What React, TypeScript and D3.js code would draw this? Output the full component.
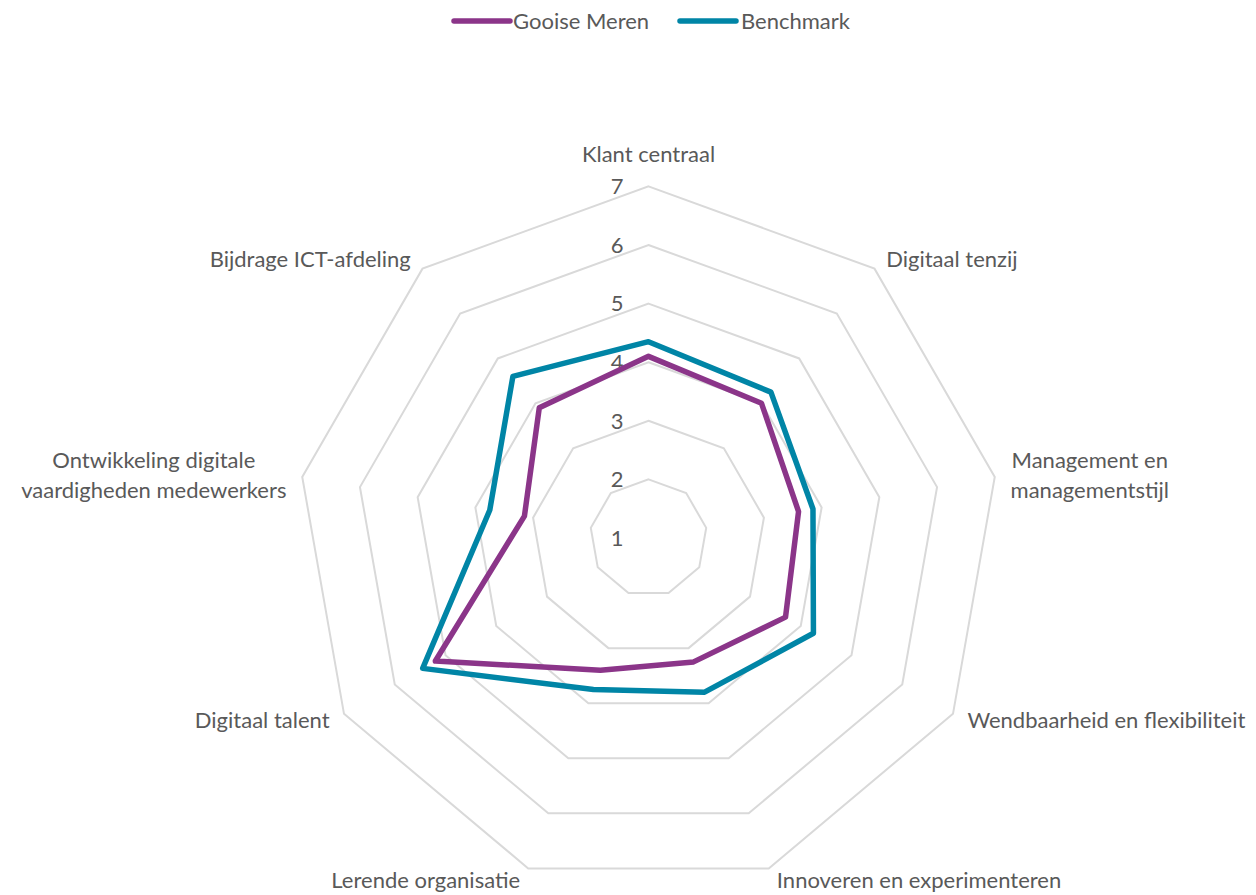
import React, {useRef, useEffect} from 'react'
import * as d3 from 'd3'

const categories = [
  'Klant centraal',
  'Digitaal tenzij',
  'Management en\nmanagementstijl',
  'Wendbaarheid en flexibiliteit',
  'Innoveren en experimenteren',
  'Lerende organisatie',
  'Digitaal talent',
  'Ontwikkeling digitale\nvaardigheden medewerkers',
  'Bijdrage ICT-afdeling',
]
const gooiseMeren = [4.1, 4.0, 3.6, 3.7, 3.25, 3.4, 5.2, 3.15, 3.9]
const benchmark = [4.35, 4.25, 3.85, 4.25, 3.8, 3.75, 5.45, 3.75, 4.6]
const ticks = [1, 2, 3, 4, 5, 6, 7]

const seriesList = [
  {name: 'Gooise Meren', values: gooiseMeren, color: '#8B3589'},
  {name: 'Benchmark', values: benchmark, color: '#0085A6'},
]

const W = 1256
const H = 895
const cx = 648.5
const cy = 538
const outerR = 351.6
const font = 'Lato, "Open Sans", sans-serif'
const textColor = '#595959'

const App = () => {
  const ref = useRef(null)

  useEffect(() => {
    const svg = d3.select(ref.current)
    svg.selectAll('*').remove()

    const step = (2 * Math.PI) / categories.length
    const r = d3.scaleLinear().domain([1, 7]).range([0, outerR])

    const g = svg.append('g').attr('transform', `translate(${cx},${cy})`)

    // grid rings
    const ring = d3.lineRadial()
      .angle((d, i) => i * step)
      .radius(d => r(d))
      .curve(d3.curveLinearClosed)

    ticks.filter(t => t > 1).forEach(t => {
      g.append('path')
        .attr('d', ring(categories.map(() => t)))
        .attr('fill', 'none')
        .attr('stroke', '#d9d9d9')
        .attr('stroke-width', 2)
    })

    // tick labels
    g.selectAll('text.tick')
      .data(ticks)
      .join('text')
      .attr('class', 'tick')
      .attr('x', -25)
      .attr('y', d => -r(d))
      .attr('dy', '0.35em')
      .attr('text-anchor', 'end')
      .attr('font-family', font)
      .attr('font-size', 22)
      .attr('fill', textColor)
      .text(d => d)

    // series
    seriesList.forEach(s => {
      g.append('path')
        .attr('d', ring(s.values))
        .attr('fill', 'none')
        .attr('stroke', s.color)
        .attr('stroke-width', 5.5)
        .attr('stroke-linejoin', 'round')
    })

    // category labels
    const lineH = 30
    categories.forEach((c, i) => {
      const a = i * step
      const sin = Math.sin(a)
      const cos = Math.cos(a)
      const px = (outerR + 12) * sin
      const py = -(outerR + 12) * cos
      const lines = c.split('\n')
      const t = g.append('text')
        .attr('font-family', font)
        .attr('font-size', 22)
        .attr('fill', textColor)
        .attr('text-anchor', 'middle')
      lines.forEach((l, j) => {
        t.append('tspan').attr('x', 0).attr('dy', j === 0 ? 0 : lineH).text(l)
      })
      const bb = t.node().getBBox()
      let x = px
      if (sin > 0.05) x = px + 4 + bb.width / 2
      else if (sin < -0.05) x = px - 4 - bb.width / 2
      const blockH = (lines.length - 1) * lineH
      let y = py - blockH / 2 + 8
      if (Math.abs(sin) < 0.05) y = py - blockH - 12
      t.attr('transform', `translate(${x},${y})`)
    })

    // legend
    const legend = svg.append('g').attr('transform', 'translate(0,21)')
    const items = [
      {x: 454, tx: 513},
      {x: 680, tx: 741},
    ]
    seriesList.forEach((s, i) => {
      legend.append('line')
        .attr('x1', items[i].x).attr('x2', items[i].x + 56)
        .attr('y1', 0).attr('y2', 0)
        .attr('stroke', s.color)
        .attr('stroke-width', 5.5)
        .attr('stroke-linecap', 'round')
      legend.append('text')
        .attr('x', items[i].tx)
        .attr('y', 0)
        .attr('dy', '0.35em')
        .attr('font-family', font)
        .attr('font-size', 22)
        .attr('fill', textColor)
        .text(s.name)
    })
  }, [])

  return (
    <div style={{position: 'absolute', left: 0, top: 0}}>
      <svg ref={ref} width={W} height={H} style={{display: 'block', background: '#fff'}}/>
    </div>
  )
}

export default App
